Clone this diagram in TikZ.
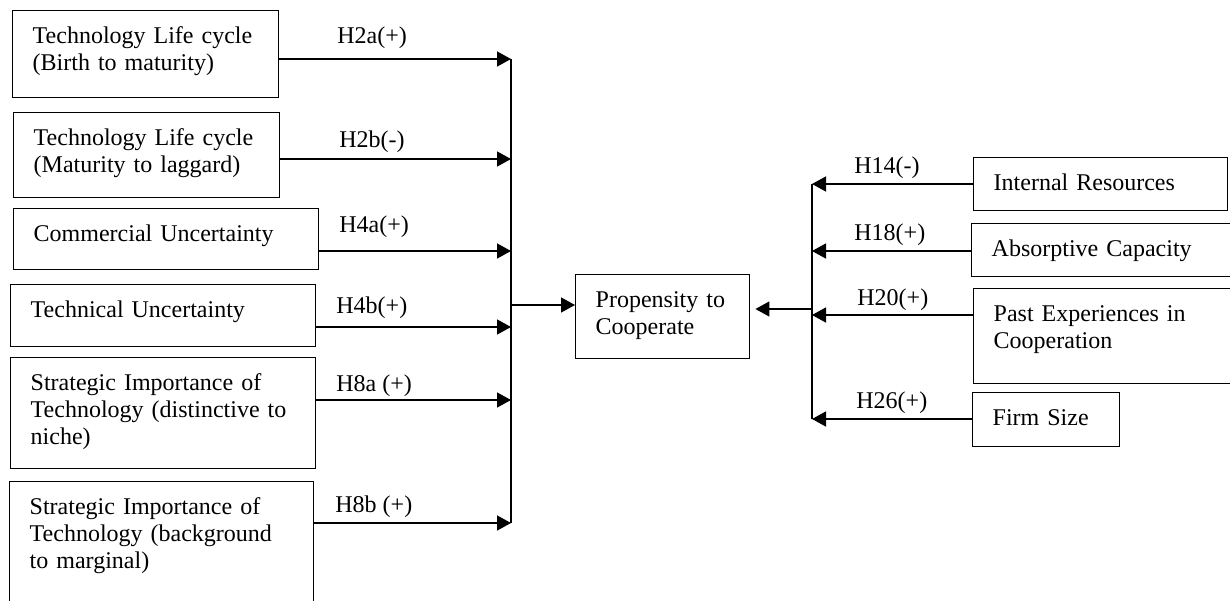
\documentclass[tikz,border=0pt]{standalone}
\usepackage{fontspec}
\setmainfont{Liberation Serif}
\usepackage{tikz}
\usetikzlibrary{arrows.meta}

\begin{document}
\begin{tikzpicture}[
    x=0.5pt,y=-0.5pt,
    font=\fontsize{12pt}{13.5pt}\selectfont,
    factor/.style={draw,line width=0.7pt,anchor=north west,align=left,
      inner xsep=10pt,inner ysep=0pt,text height=16.5pt},
    link/.style={line width=0.7pt,-{Triangle[length=7pt,width=7.5pt]}},
    bus/.style={line width=0.7pt},
    hyp/.style={anchor=base west,inner sep=0pt}]

  \useasboundingbox (0,0) rectangle (1230,600);
  \clip (0,0) rectangle (1230,600);

  \node[factor,text width=113pt,text depth=27pt] (lifeBirth) at (12,10)
    {Technology Life cycle\\(Birth to maturity)};
  \node[factor,text width=113pt,text depth=26pt] (lifeMature) at (13,112)
    {Technology Life cycle\\(Maturity to laggard)};
  \node[factor,text width=132.5pt,text depth=14pt] (commUnc) at (13,208)
    {Commercial Uncertainty};
  \node[factor,text width=132.5pt,text depth=14.5pt] (techUnc) at (10,284)
    {Technical Uncertainty};
  \node[factor,text width=132.5pt,text depth=39pt] (stratNiche) at (10,357)
    {Strategic Importance of\\Technology (distinctive to\\niche)};
  \node[factor,text width=132pt,text depth=56pt] (stratMarg) at (9,481)
    {Strategic Importance of\\Technology (background\\to marginal)};

  \node[factor,text width=67pt,text depth=25.5pt] (prop) at (575,274)
    {Propensity to\\Cooperate};

  \node[factor,text width=107pt,text depth=10pt] (intRes) at (973,157)
    {Internal Resources};
  \node[factor,text width=120pt,text depth=10pt] (absCap) at (971,223)
    {Absorptive Capacity};
  \node[factor,text width=120pt,text depth=31pt] (pastExp) at (973,288)
    {Past Experiences in\\Cooperation};
  \node[factor,text width=53.5pt,text depth=10.5pt] (firmSize) at (972,392)
    {Firm Size};

  \coordinate (inBirth) at (511,59);
  \coordinate (inMature) at (511,159);
  \coordinate (inComm) at (511,251);
  \coordinate (inTech) at (511,327);
  \coordinate (inNiche) at (511,400);
  \coordinate (inMarg) at (511,523);
  \coordinate (outL) at (511,305);

  \coordinate (fromRes) at (812,184);
  \coordinate (fromCap) at (812,251);
  \coordinate (fromPast) at (812,315);
  \coordinate (fromSize) at (812,419);
  \coordinate (outR) at (812,309);

  \draw[bus] (inBirth) -- (inMarg);
  \draw[bus] (fromRes) -- (fromSize);

  \draw[link] (lifeBirth.east |- inBirth) -- (inBirth);
  \draw[link] (lifeMature.east |- inMature) -- (inMature);
  \draw[link] (commUnc.east |- inComm) -- (inComm);
  \draw[link] (techUnc.east |- inTech) -- (inTech);
  \draw[link] (stratNiche.east |- inNiche) -- (inNiche);
  \draw[link] (stratMarg.east |- inMarg) -- (inMarg);
  \draw[link] (outL) -- (prop.west |- outL);

  \draw[link] (intRes.west |- fromRes) -- (fromRes);
  \draw[link] (absCap.west |- fromCap) -- (fromCap);
  \draw[link] (pastExp.west |- fromPast) -- (fromPast);
  \draw[link] (firmSize.west |- fromSize) -- (fromSize);
  \draw[link,shorten >=2.5pt] (outR) -- (prop.east |- outR);

  \node[hyp] (h2a) at (337,43) {H2a(+)};
  \node[hyp] (h2b) at (339,147) {H2b(-)};
  \node[hyp] (h4a) at (339,232) {H4a(+)};
  \node[hyp] (h4b) at (336,313) {H4b(+)};
  \node[hyp] (h8a) at (336,391) {H8a (+)};
  \node[hyp] (h8b) at (335,512) {H8b (+)};

  \node[hyp] (h14) at (854,173) {H14(-)};
  \node[hyp] (h18) at (854,240) {H18(+)};
  \node[hyp] (h20) at (857,305) {H20(+)};
  \node[hyp] (h26) at (856,408) {H26(+)};
\end{tikzpicture}
\end{document}
